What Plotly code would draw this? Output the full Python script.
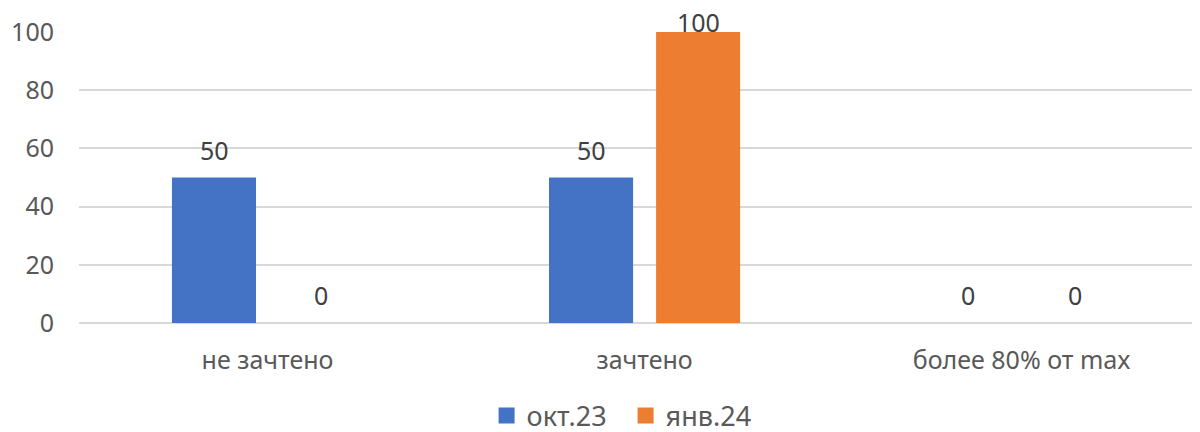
import plotly.graph_objects as go

categories = ["не зачтено", "зачтено", "более 80% от max"]
series_names = ["окт.23", "янв.24"]
oct23 = [50, 50, 0]
jan24 = [0, 100, 0]
colors = ["#4472C4", "#ED7D31"]

font_family = "Noto Sans, Open Sans, sans-serif"
y_max = 100
group_offset_px = [-53.5, 53.5]

fig = go.Figure()
for name, vals, col in zip(series_names, [oct23, jan24], colors):
    fig.add_trace(go.Bar(
        x=categories, y=vals, name=name, marker_color=col,
        marker_line_width=0, showlegend=False,
    ))
# legend-only swatches (larger squares)
for name, col in zip(series_names, colors):
    fig.add_trace(go.Scatter(
        x=[None], y=[None], mode="markers", name=name,
        marker=dict(symbol="square", size=17, color=col),
    ))

# data labels
for vals, off in zip([oct23, jan24], group_offset_px):
    for cat, v in zip(categories, vals):
        clamp = v >= y_max
        fig.add_annotation(
            x=cat, y=v, xref="x", yref="y", text=str(v), showarrow=False,
            xshift=off, yanchor="bottom", yshift=(-9 if clamp else 9),
            font=dict(size=25, color="#404040", family=font_family),
        )

fig.update_layout(
    width=1200, height=432,
    margin=dict(l=71, r=8, t=24, b=117, autoexpand=False),
    paper_bgcolor="white", plot_bgcolor="white",
    barmode="group", bargap=0.432, bargroupgap=0.215,
    font=dict(family=font_family, size=25, color="#595959"),
    legend=dict(orientation="h", x=0.3636, xanchor="left", y=-0.235, yanchor="top",
                font=dict(size=27, color="#595959"), itemwidth=30,
                entrywidth=94, entrywidthmode="pixels",
                traceorder="normal"),
    xaxis=dict(range=[-0.5, 2.473], showgrid=False, showline=False,
               ticks="", ticklabelstandoff=20, automargin=False,
               tickfont=dict(size=25, color="#595959")),
    yaxis=dict(range=[0, y_max], dtick=20, showgrid=True, gridcolor="#D9D9D9",
               gridwidth=1.5, zeroline=True, zerolinecolor="#D9D9D9", zerolinewidth=1.5,
               showline=False, ticks="", ticklabelstandoff=24, automargin=False,
               tickfont=dict(size=25, color="#595959")),
)

fig.write_html("out.html")
